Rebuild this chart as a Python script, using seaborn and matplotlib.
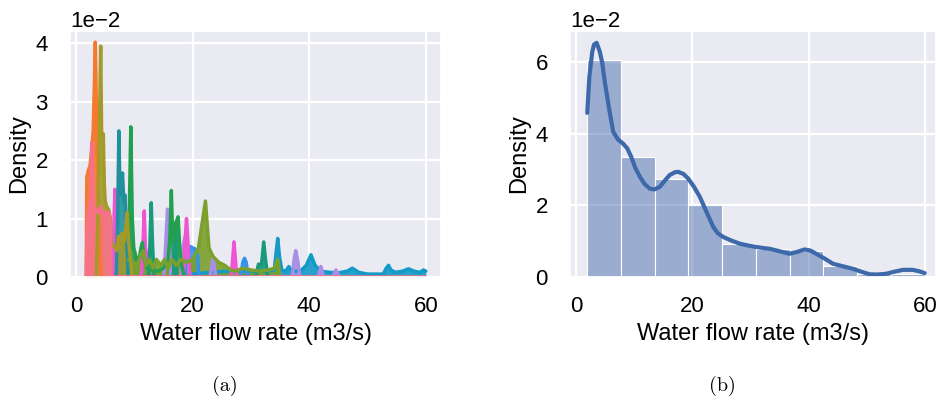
import numpy as np
import pandas as pd
import matplotlib
matplotlib.use("Agg")
import matplotlib.pyplot as plt
import seaborn as sns

# ---------------- data (densities in units of 1e-2) ----------------
SCALE = 1e-2

# Panel (a): density curves per group (x in m3/s, y in 1e-2)
cyan_x = [20.0, 23.0, 26.0, 29.0, 32.0, 34.0, 34.3, 34.6, 34.9, 35.3, 36.0, 36.5, 37.0, 38.5,
          39.5, 40.3, 41.0, 42.0, 43.5, 45.0, 46.5, 47.4, 48.5, 50.0, 52.7, 53.2, 53.6, 54.0,
          54.8, 56.0, 57.0, 58.0, 59.0, 59.6, 60.0]
cyan_y = [0.05, 0.08, 0.1, 0.1, 0.1, 0.12, 0.4, 0.66, 0.35, 0.12, 0.1, 0.18, 0.1, 0.1,
          0.2, 0.38, 0.2, 0.1, 0.08, 0.07, 0.1, 0.15, 0.08, 0.05, 0.05, 0.15, 0.2, 0.12,
          0.08, 0.1, 0.14, 0.1, 0.08, 0.12, 0.1]

blue_x = [18.9, 19.2, 19.6, 20.0, 20.4, 20.8, 21.1, 28.3, 28.6, 28.9, 29.2, 29.5]
blue_y = [0, 0.45, 0.52, 0.5, 0.48, 0.4, 0, 0, 0.25, 0.32, 0.25, 0]

lavender_x = [15.1, 15.4, 15.7, 16.0, 16.3, 18.0, 18.3, 18.7, 19.1, 19.5, 23.0, 23.5, 24.0,
              37.1, 37.4, 37.7, 38.0, 38.4, 41.5, 42.0, 42.5, 44.0, 44.6, 45.2]
lavender_y = [0, 0.6, 1.16, 0.5, 0, 0, 0.5, 0.69, 0.5, 0, 0, 0.32, 0,
              0, 0.3, 0.45, 0.3, 0, 0, 0.18, 0, 0, 0.12, 0]

magenta_x = [6.3, 6.5, 6.67, 6.85, 7.0, 11.2, 11.5, 11.7, 11.9, 12.2, 12.5,
             18.4, 18.7, 18.95, 19.2, 19.5, 26.6, 26.9, 27.1, 27.3, 27.6]
magenta_y = [0, 0.9, 1.5, 0.9, 0, 0, 0.6, 1.13, 0.5, 0.35, 0,
             0, 0.6, 1.0, 0.6, 0, 0, 0.35, 0.6, 0.35, 0]

tealgreen_x = [12.4, 12.65, 12.9, 13.15, 13.4, 16.7, 17.0, 17.3, 30.8, 31.3, 31.8, 32.2, 32.5, 32.9]
tealgreen_y = [0, 0.5, 1.27, 0.5, 0, 0, 0.92, 0, 0, 0.22, 0.2, 0.6, 0.3, 0]

green_x = [8.9, 9.15, 9.4, 9.65, 9.9, 10.4, 10.9, 11.15, 11.4, 11.7, 12.2, 13.0, 14.0, 15.0,
           15.8, 16.1, 16.35, 16.6, 16.9, 17.2, 17.5, 17.8, 18.1, 18.6]
green_y = [0, 1.2, 2.57, 1.0, 0.5, 0.3, 0.35, 0.5, 0.59, 0.3, 0.15, 0.12, 0.1, 0.15,
           0.3, 0.7, 1.48, 0.6, 0.8, 0.95, 1.03, 0.5, 0.2, 0]

teal_x = [6.9, 7.15, 7.35, 7.55, 7.8, 7.97, 8.2, 8.4, 8.7, 9.0]
teal_y = [0, 1.0, 2.5, 1.4, 1.5, 1.78, 1.3, 1.4, 0.6, 0]

yellowgreen_x = [9.0, 9.8, 10.5, 11.0, 11.5, 12.0, 12.6, 13.2, 13.8, 14.5, 15.2, 15.8, 16.5,
                 17.2, 18.0, 19.0, 20.0, 21.0, 21.6, 22.2, 22.8, 23.5, 24.5, 25.5, 26.5, 27.5,
                 28.5, 30.0, 31.5, 33.0, 34.0, 34.6, 35.0]
yellowgreen_y = [0.3, 0.25, 0.2, 0.35, 0.45, 0.2, 0.3, 0.15, 0.3, 0.2, 0.3, 0.15, 0.3,
                 0.2, 0.3, 0.25, 0.3, 0.5, 0.9, 1.3, 0.5, 0.35, 0.25, 0.2, 0.12, 0.1,
                 0.15, 0.12, 0.1, 0.12, 0.15, 0.3, 0]

orange_x = [1.75, 1.85, 2.1, 2.4, 2.7, 2.95, 3.15, 3.31, 3.45, 3.6, 3.8, 4.0, 4.3]
orange_y = [0, 1.7, 1.82, 1.9, 2.2, 2.5, 3.3, 4.02, 3.2, 2.2, 1.4, 0.9, 0]

olive_x = [3.5, 3.8, 4.0, 4.23, 4.4, 4.68, 4.85, 5.0, 5.3, 5.6, 5.9, 6.0, 6.3, 6.7, 7.0,
           7.3, 7.6, 7.9, 8.2, 8.5, 8.75, 9.0, 9.3, 9.6]
olive_y = [0, 1.2, 2.5, 3.95, 2.4, 2.45, 1.6, 1.3, 1.2, 1.15, 1.0, 0.62, 0.55, 0.5, 0.45,
           0.7, 0.5, 0.75, 0.6, 0.8, 1.1, 0.6, 0.35, 0]

pink_x = [1.75, 1.85, 2.0, 2.3, 2.55, 2.7, 2.85, 3.0, 3.3, 3.6, 3.9, 4.2, 4.5, 4.8, 5.0,
          5.2, 5.4, 5.7, 5.9, 6.0, 60.0]
pink_y = [0, 0.6, 1.0, 1.2, 1.4, 2.3, 1.6, 1.2, 1.1, 1.15, 1.1, 1.2, 1.1, 1.05, 1.1,
          1.12, 1.05, 1.1, 0.8, 0, 0]

group_colors = {
    "cyan": "#139ac7", "blue": "#3591ea", "lavender": "#a98ee8", "magenta": "#ee55d2",
    "tealgreen": "#1a9a7c", "green": "#23a04f", "teal": "#22909c",
    "yellowgreen": "#7ba02c", "orange": "#f57a30", "olive": "#a39a2a", "pink": "#f77189",
}

# Panel (b): histogram (density per bin, 1e-2) and smoothed density
bin_start = 1.94
bin_width = 5.8
hist_heights = [6.06, 3.35, 2.73, 2.0, 0.91, 0.79, 0.73, 0.31, 0.095, 0.08]

kde_x = [1.94, 2.3, 2.8, 3.1, 3.55, 4.1, 4.5, 5.0, 5.7, 6.4, 7.2, 8.1, 8.8, 9.5, 10.2, 11.0,
         11.8, 12.7, 13.5, 14.4, 15.3, 16.1, 17.0, 17.6, 18.5, 19.3, 20.3, 21.3, 22.5, 23.6,
         24.4, 25.3, 26.7, 28.2, 29.6, 31.0, 32.2, 33.3, 35.0, 36.7, 38.0, 39.3, 40.3, 41.3,
         42.7, 44.2, 45.9, 47.6, 49.0, 50.5, 51.9, 53.3, 54.8, 56.2, 57.9, 59.0, 59.95]
kde_y = [4.59, 5.6, 6.3, 6.5, 6.55, 6.3, 6.0, 5.41, 4.7, 4.06, 3.85, 3.73, 3.6, 3.36, 3.05, 2.8,
         2.6, 2.47, 2.45, 2.52, 2.7, 2.85, 2.93, 2.94, 2.88, 2.75, 2.52, 2.24, 1.8, 1.4,
         1.22, 1.12, 1.02, 0.93, 0.88, 0.84, 0.81, 0.79, 0.72, 0.65, 0.7, 0.77, 0.74, 0.65,
         0.52, 0.37, 0.3, 0.23, 0.15, 0.075, 0.07, 0.09, 0.15, 0.2, 0.2, 0.16, 0.11]

tick_x = [0, 20, 40, 60]
ticks_a = [0, 1, 2, 3, 4]
ticks_b = [0, 2, 4, 6]
xlabel = "Water flow rate (m3/s)"
ylabel = "Density"

# ---------------- style ----------------
sns.set_theme(style="darkgrid")
plt.rcParams['font.family'] = ['Liberation Sans', 'DejaVu Sans']
plt.rcParams['grid.linewidth'] = 1.6
plt.rcParams['axes.unicode_minus'] = True
for key in ('text.color', 'axes.labelcolor', 'xtick.color', 'ytick.color'):
    plt.rcParams[key] = 'black'

fig = plt.figure(figsize=(9.36, 4.03), dpi=100)
ax1 = fig.add_axes([70 / 936, 126 / 403, 371 / 936, 246 / 403])
ax2 = fig.add_axes([570 / 936, 126 / 403, 366 / 936, 246 / 403])

# ---------------- panel (a) ----------------
groups = [
    ("cyan", cyan_x, cyan_y), ("blue", blue_x, blue_y), ("lavender", lavender_x, lavender_y),
    ("magenta", magenta_x, magenta_y), ("tealgreen", tealgreen_x, tealgreen_y),
    ("green", green_x, green_y), ("teal", teal_x, teal_y),
    ("yellowgreen", yellowgreen_x, yellowgreen_y), ("orange", orange_x, orange_y),
    ("olive", olive_x, olive_y), ("pink", pink_x, pink_y),
]
for name, xs, ys in groups:
    c = group_colors[name]
    yv = np.asarray(ys) * SCALE
    ax1.fill_between(xs, 0, yv, color=c, alpha=0.9, linewidth=0)
    sns.lineplot(x=xs, y=yv, color=c, linewidth=2.5, ax=ax1, sort=False, estimator=None)

ax1.set_xlim(-1.03, 62.6)
ax1.set_ylim(0, 4.21 * SCALE)
ax1.set_xticks(tick_x)
ax1.set_yticks(np.array(ticks_a) * SCALE)

# ---------------- panel (b) ----------------
edges = bin_start + bin_width * np.arange(len(hist_heights) + 1)
hist_df = pd.DataFrame({
    "flow": (edges[:-1] + edges[1:]) / 2,
    "w": np.asarray(hist_heights) * SCALE,
})
sns.histplot(data=hist_df, x="flow", weights="w", bins=list(edges), stat="count",
             color="#4c72b0", alpha=0.5, edgecolor="white", linewidth=0.8, ax=ax2)
sns.lineplot(x=kde_x, y=np.asarray(kde_y) * SCALE, color="#3d69aa", linewidth=3, ax=ax2)
ax2.set_xlim(-1.03, 61.9)
ax2.set_ylim(0, 6.88 * SCALE)
ax2.set_xticks(tick_x)
ax2.set_yticks(np.array(ticks_b) * SCALE)

for ax in (ax1, ax2):
    ax.ticklabel_format(axis='y', style='sci', scilimits=(0, 0))
    ax.yaxis.get_offset_text().set_fontsize(16)
    ax.yaxis.get_offset_text().set_color('black')
    ax.tick_params(axis='both', labelsize=16, labelcolor='black')
    ax.tick_params(axis='x', pad=8)
    ax.tick_params(axis='y', pad=10)
    ax.set_xlabel(xlabel, fontsize=17, color='black')
    ax.set_ylabel(ylabel, fontsize=17, color='black')

fig.text(224.5 / 936, 1 - 386 / 403, "(a)", fontfamily="cmr10", fontsize=14.5, ha="center", va="center", color='black')
fig.text(722 / 936, 1 - 386 / 403, "(b)", fontfamily="cmr10", fontsize=14.5, ha="center", va="center", color='black')

fig.savefig("out.png", dpi=100)
